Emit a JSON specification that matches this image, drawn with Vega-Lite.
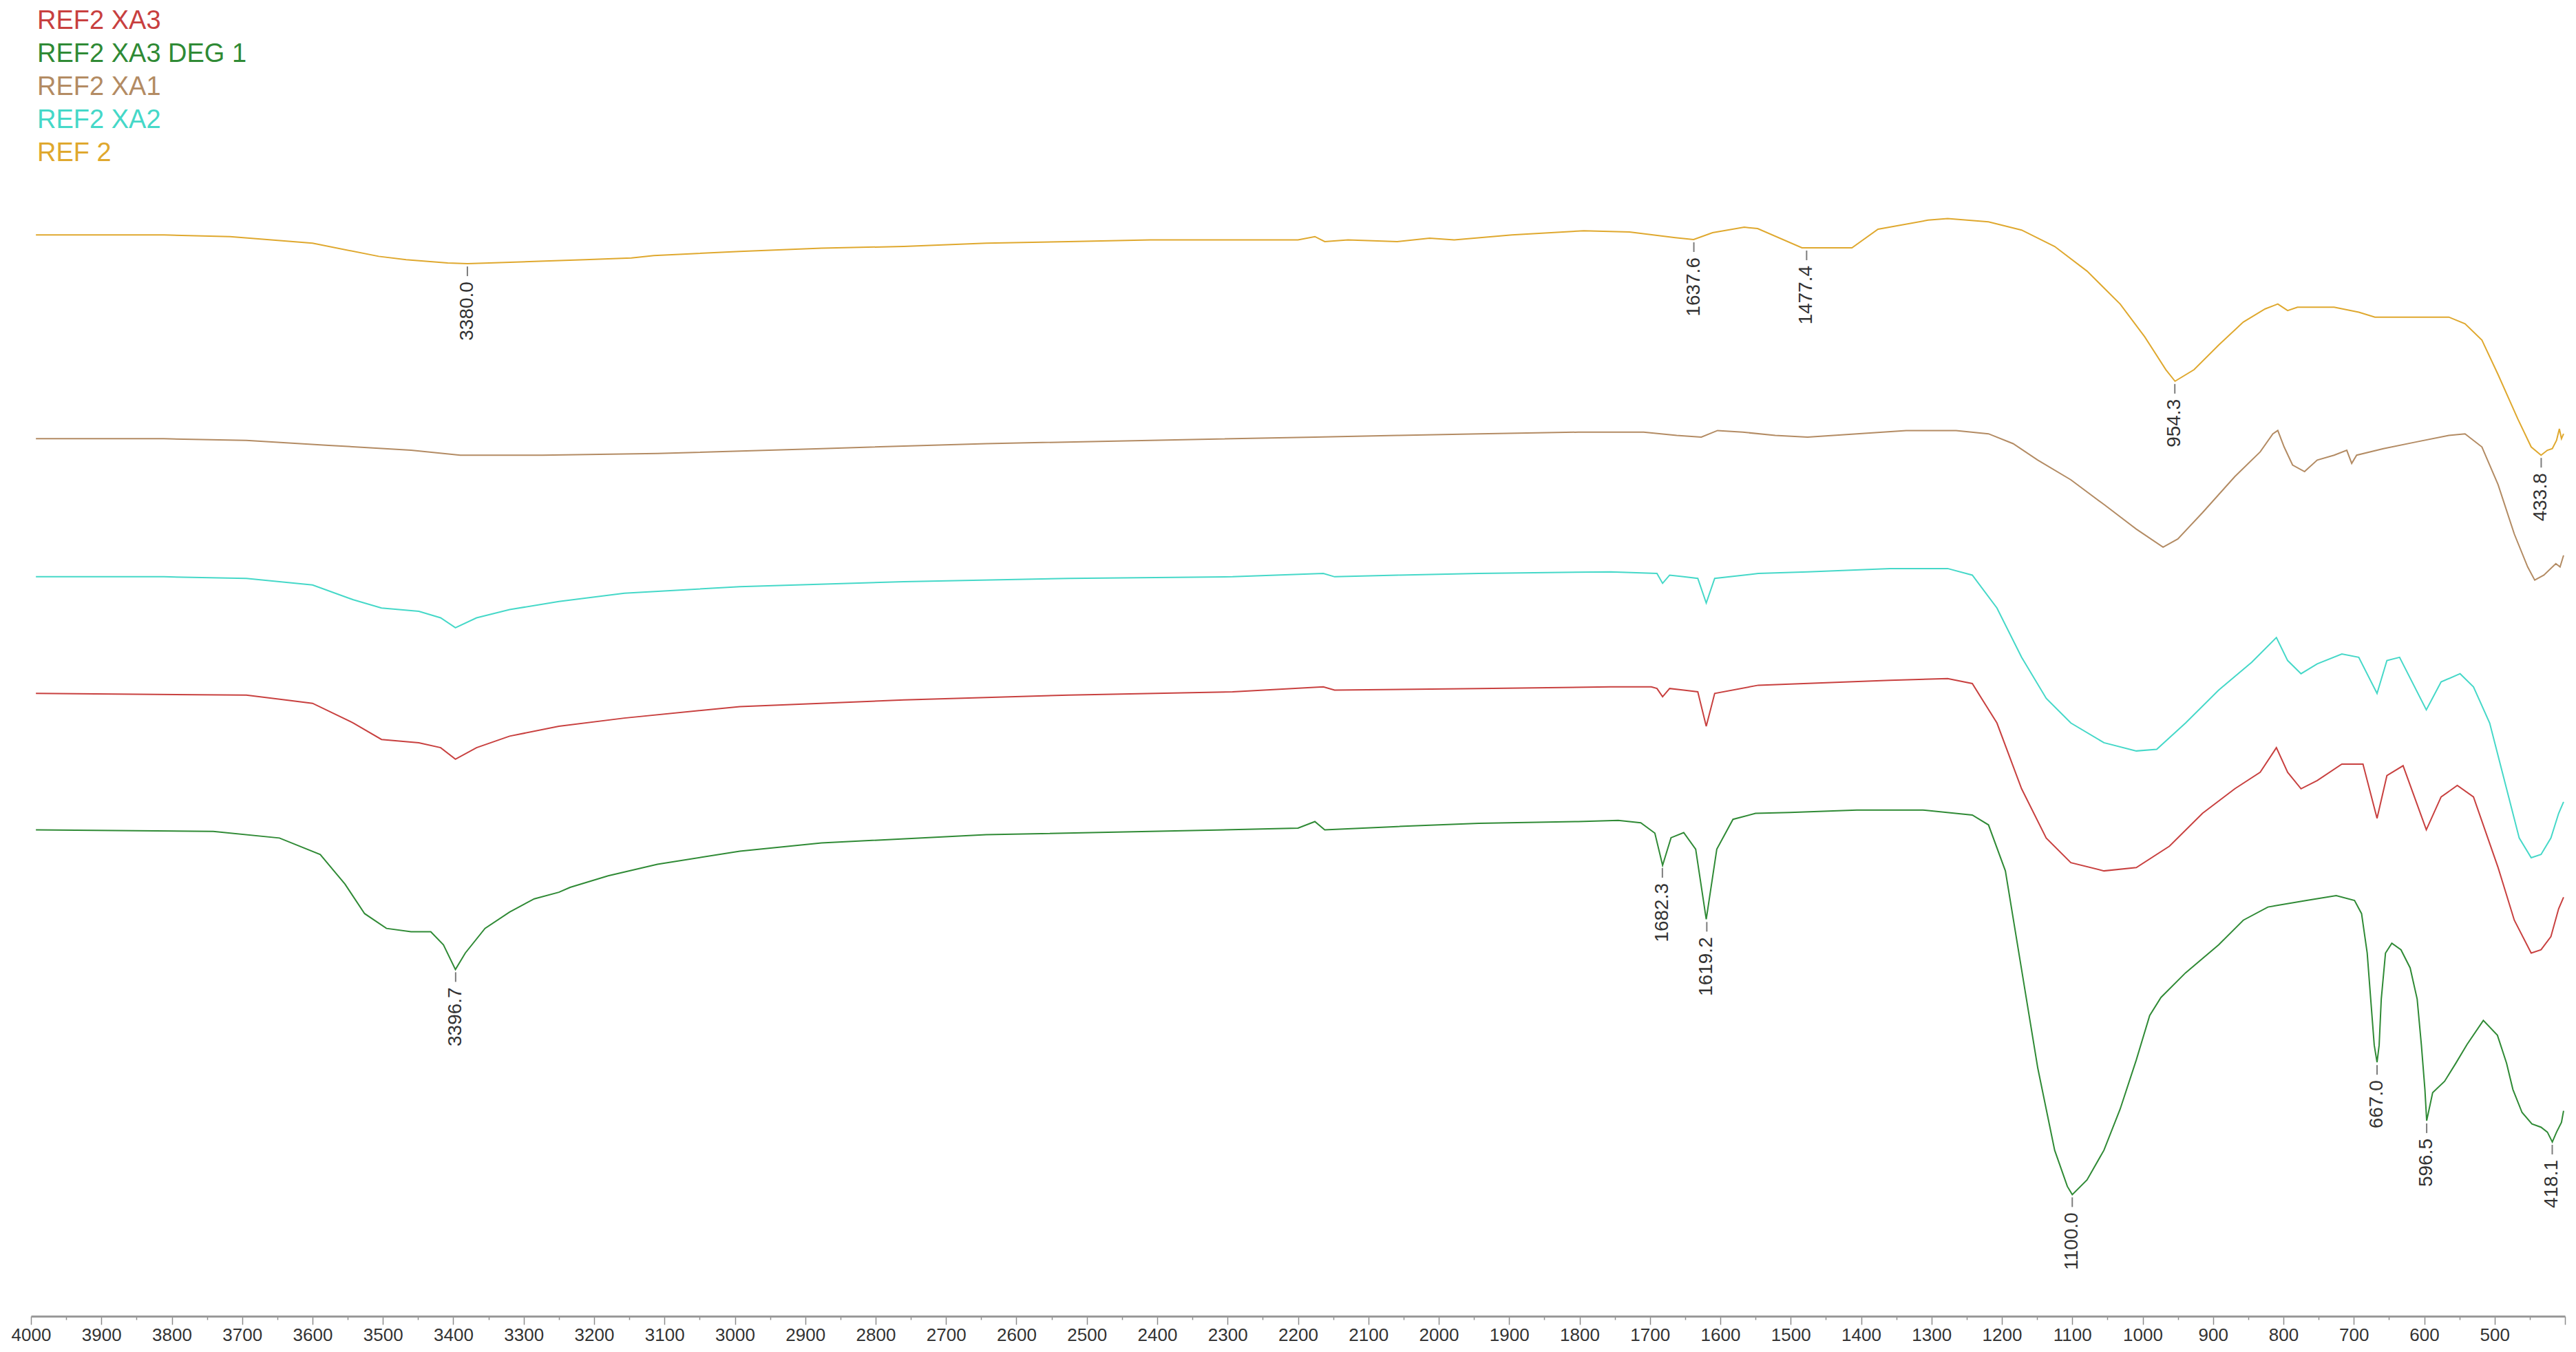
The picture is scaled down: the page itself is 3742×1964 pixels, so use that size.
{
"$schema": "https://vega.github.io/schema/vega-lite/v6.json",
"width": 3681, "height": 1912,
"autosize": {"type": "none"},
"padding": {"left": 45, "top": 0, "right": 16, "bottom": 52},
"background": "white",
"config": {"view": {"stroke": null}, "font": "Liberation Sans"},
"datasets": {
"traces": [
{"s":"REF 2","wn":3993,"v":658},{"s":"REF 2","wn":3811,"v":658},{"s":"REF 2","wn":3717,"v":657},{"s":"REF 2","wn":3600,"v":653},{"s":"REF 2","wn":3506,"v":645},{"s":"REF 2","wn":3467,"v":643},{"s":"REF 2","wn":3408,"v":641},{"s":"REF 2","wn":3380,"v":640.5},{"s":"REF 2","wn":3349,"v":641},{"s":"REF 2","wn":3278,"v":642},{"s":"REF 2","wn":3213,"v":643},{"s":"REF 2","wn":3147,"v":644},{"s":"REF 2","wn":3115,"v":645.5},{"s":"REF 2","wn":2993,"v":648},{"s":"REF 2","wn":2877,"v":650},{"s":"REF 2","wn":2760,"v":651},{"s":"REF 2","wn":2643,"v":653},{"s":"REF 2","wn":2526,"v":654},{"s":"REF 2","wn":2410,"v":655},{"s":"REF 2","wn":2270,"v":655},{"s":"REF 2","wn":2200,"v":655},{"s":"REF 2","wn":2176,"v":657},{"s":"REF 2","wn":2162,"v":654},{"s":"REF 2","wn":2129,"v":655},{"s":"REF 2","wn":2059,"v":654},{"s":"REF 2","wn":2013,"v":656},{"s":"REF 2","wn":1978,"v":655},{"s":"REF 2","wn":1896,"v":658},{"s":"REF 2","wn":1794,"v":660.6},{"s":"REF 2","wn":1729,"v":659.8},{"s":"REF 2","wn":1664,"v":656.4},{"s":"REF 2","wn":1638,"v":655.2},{"s":"REF 2","wn":1611,"v":659.4},{"s":"REF 2","wn":1566,"v":662.7},{"s":"REF 2","wn":1547,"v":661.9},{"s":"REF 2","wn":1484,"v":650.2},{"s":"REF 2","wn":1413,"v":650.2},{"s":"REF 2","wn":1376,"v":661.5},{"s":"REF 2","wn":1305,"v":667},{"s":"REF 2","wn":1277,"v":668},{"s":"REF 2","wn":1219,"v":666},{"s":"REF 2","wn":1172,"v":661},{"s":"REF 2","wn":1125,"v":651},{"s":"REF 2","wn":1079,"v":636},{"s":"REF 2","wn":1032,"v":616},{"s":"REF 2","wn":997,"v":596},{"s":"REF 2","wn":967,"v":576},{"s":"REF 2","wn":954,"v":569},{"s":"REF 2","wn":927,"v":576},{"s":"REF 2","wn":892,"v":591},{"s":"REF 2","wn":857,"v":605},{"s":"REF 2","wn":826,"v":613},{"s":"REF 2","wn":808,"v":616},{"s":"REF 2","wn":794,"v":612},{"s":"REF 2","wn":780,"v":614},{"s":"REF 2","wn":728,"v":614},{"s":"REF 2","wn":693,"v":611},{"s":"REF 2","wn":670,"v":608},{"s":"REF 2","wn":612,"v":608},{"s":"REF 2","wn":565,"v":608},{"s":"REF 2","wn":542,"v":604},{"s":"REF 2","wn":518,"v":594},{"s":"REF 2","wn":495,"v":573},{"s":"REF 2","wn":467,"v":546},{"s":"REF 2","wn":448,"v":529},{"s":"REF 2","wn":434,"v":524},{"s":"REF 2","wn":425,"v":527},{"s":"REF 2","wn":418,"v":528},{"s":"REF 2","wn":412,"v":533},{"s":"REF 2","wn":408,"v":540},{"s":"REF 2","wn":405,"v":534},{"s":"REF 2","wn":402,"v":537},
{"s":"REF2 XA1","wn":3993,"v":534},{"s":"REF2 XA1","wn":3811,"v":534},{"s":"REF2 XA1","wn":3694,"v":533},{"s":"REF2 XA1","wn":3577,"v":530},{"s":"REF2 XA1","wn":3460,"v":527},{"s":"REF2 XA1","wn":3390,"v":524},{"s":"REF2 XA1","wn":3274,"v":524},{"s":"REF2 XA1","wn":3110,"v":525},{"s":"REF2 XA1","wn":2877,"v":528},{"s":"REF2 XA1","wn":2643,"v":531},{"s":"REF2 XA1","wn":2410,"v":533},{"s":"REF2 XA1","wn":2176,"v":535},{"s":"REF2 XA1","wn":2059,"v":536},{"s":"REF2 XA1","wn":1943,"v":537},{"s":"REF2 XA1","wn":1802,"v":538},{"s":"REF2 XA1","wn":1709,"v":538},{"s":"REF2 XA1","wn":1662,"v":536},{"s":"REF2 XA1","wn":1627,"v":535},{"s":"REF2 XA1","wn":1604,"v":539},{"s":"REF2 XA1","wn":1568,"v":538},{"s":"REF2 XA1","wn":1522,"v":536},{"s":"REF2 XA1","wn":1476,"v":535},{"s":"REF2 XA1","wn":1406,"v":537},{"s":"REF2 XA1","wn":1336,"v":539},{"s":"REF2 XA1","wn":1265,"v":539},{"s":"REF2 XA1","wn":1219,"v":537},{"s":"REF2 XA1","wn":1184,"v":531},{"s":"REF2 XA1","wn":1149,"v":521},{"s":"REF2 XA1","wn":1102,"v":509},{"s":"REF2 XA1","wn":1055,"v":494},{"s":"REF2 XA1","wn":1009,"v":479},{"s":"REF2 XA1","wn":971,"v":468},{"s":"REF2 XA1","wn":950,"v":473},{"s":"REF2 XA1","wn":915,"v":489},{"s":"REF2 XA1","wn":869,"v":511},{"s":"REF2 XA1","wn":833,"v":526},{"s":"REF2 XA1","wn":815,"v":537},{"s":"REF2 XA1","wn":808,"v":539},{"s":"REF2 XA1","wn":799,"v":529},{"s":"REF2 XA1","wn":787,"v":518},{"s":"REF2 XA1","wn":770,"v":514},{"s":"REF2 XA1","wn":752,"v":521},{"s":"REF2 XA1","wn":728,"v":524},{"s":"REF2 XA1","wn":710,"v":527},{"s":"REF2 XA1","wn":703,"v":519},{"s":"REF2 XA1","wn":696,"v":524},{"s":"REF2 XA1","wn":658,"v":528},{"s":"REF2 XA1","wn":612,"v":532},{"s":"REF2 XA1","wn":565,"v":536},{"s":"REF2 XA1","wn":542,"v":537},{"s":"REF2 XA1","wn":518,"v":529},{"s":"REF2 XA1","wn":495,"v":506},{"s":"REF2 XA1","wn":472,"v":476},{"s":"REF2 XA1","wn":453,"v":456},{"s":"REF2 XA1","wn":443,"v":448},{"s":"REF2 XA1","wn":430,"v":451},{"s":"REF2 XA1","wn":413,"v":458},{"s":"REF2 XA1","wn":407,"v":456},{"s":"REF2 XA1","wn":402,"v":463},
{"s":"REF2 XA2","wn":3993,"v":450},{"s":"REF2 XA2","wn":3811,"v":450},{"s":"REF2 XA2","wn":3694,"v":449},{"s":"REF2 XA2","wn":3600,"v":445},{"s":"REF2 XA2","wn":3542,"v":436},{"s":"REF2 XA2","wn":3502,"v":431},{"s":"REF2 XA2","wn":3449,"v":429},{"s":"REF2 XA2","wn":3418,"v":425},{"s":"REF2 XA2","wn":3397,"v":419},{"s":"REF2 XA2","wn":3367,"v":425},{"s":"REF2 XA2","wn":3320,"v":430},{"s":"REF2 XA2","wn":3250,"v":435},{"s":"REF2 XA2","wn":3157,"v":440},{"s":"REF2 XA2","wn":2993,"v":444},{"s":"REF2 XA2","wn":2760,"v":447},{"s":"REF2 XA2","wn":2526,"v":449},{"s":"REF2 XA2","wn":2293,"v":450},{"s":"REF2 XA2","wn":2164,"v":452},{"s":"REF2 XA2","wn":2148,"v":450},{"s":"REF2 XA2","wn":2059,"v":451},{"s":"REF2 XA2","wn":1943,"v":452},{"s":"REF2 XA2","wn":1756,"v":453},{"s":"REF2 XA2","wn":1690,"v":452},{"s":"REF2 XA2","wn":1682,"v":446},{"s":"REF2 XA2","wn":1672,"v":451},{"s":"REF2 XA2","wn":1652,"v":450},{"s":"REF2 XA2","wn":1632,"v":449},{"s":"REF2 XA2","wn":1620,"v":434},{"s":"REF2 XA2","wn":1608,"v":449},{"s":"REF2 XA2","wn":1546,"v":452},{"s":"REF2 XA2","wn":1476,"v":453},{"s":"REF2 XA2","wn":1359,"v":455},{"s":"REF2 XA2","wn":1277,"v":455},{"s":"REF2 XA2","wn":1242,"v":451},{"s":"REF2 XA2","wn":1207,"v":431},{"s":"REF2 XA2","wn":1172,"v":401},{"s":"REF2 XA2","wn":1137,"v":376},{"s":"REF2 XA2","wn":1102,"v":361},{"s":"REF2 XA2","wn":1055,"v":349},{"s":"REF2 XA2","wn":1009,"v":344},{"s":"REF2 XA2","wn":980,"v":345},{"s":"REF2 XA2","wn":939,"v":361},{"s":"REF2 XA2","wn":892,"v":381},{"s":"REF2 XA2","wn":845,"v":398},{"s":"REF2 XA2","wn":810,"v":413},{"s":"REF2 XA2","wn":794,"v":399},{"s":"REF2 XA2","wn":775,"v":391},{"s":"REF2 XA2","wn":752,"v":397},{"s":"REF2 XA2","wn":717,"v":403},{"s":"REF2 XA2","wn":693,"v":401},{"s":"REF2 XA2","wn":667,"v":379},{"s":"REF2 XA2","wn":653,"v":399},{"s":"REF2 XA2","wn":635,"v":401},{"s":"REF2 XA2","wn":597,"v":369},{"s":"REF2 XA2","wn":576,"v":386},{"s":"REF2 XA2","wn":549,"v":391},{"s":"REF2 XA2","wn":530,"v":383},{"s":"REF2 XA2","wn":507,"v":361},{"s":"REF2 XA2","wn":483,"v":321},{"s":"REF2 XA2","wn":465,"v":291},{"s":"REF2 XA2","wn":448,"v":279},{"s":"REF2 XA2","wn":434,"v":281},{"s":"REF2 XA2","wn":420,"v":291},{"s":"REF2 XA2","wn":409,"v":306},{"s":"REF2 XA2","wn":402,"v":313},
{"s":"REF2 XA3","wn":3993,"v":379},{"s":"REF2 XA3","wn":3694,"v":378},{"s":"REF2 XA3","wn":3600,"v":373},{"s":"REF2 XA3","wn":3542,"v":361},{"s":"REF2 XA3","wn":3502,"v":351},{"s":"REF2 XA3","wn":3449,"v":349},{"s":"REF2 XA3","wn":3418,"v":346},{"s":"REF2 XA3","wn":3397,"v":339},{"s":"REF2 XA3","wn":3367,"v":346},{"s":"REF2 XA3","wn":3320,"v":353},{"s":"REF2 XA3","wn":3250,"v":359},{"s":"REF2 XA3","wn":3157,"v":364},{"s":"REF2 XA3","wn":2993,"v":371},{"s":"REF2 XA3","wn":2760,"v":375},{"s":"REF2 XA3","wn":2526,"v":378},{"s":"REF2 XA3","wn":2293,"v":380},{"s":"REF2 XA3","wn":2164,"v":383},{"s":"REF2 XA3","wn":2148,"v":381},{"s":"REF2 XA3","wn":1943,"v":382},{"s":"REF2 XA3","wn":1756,"v":383},{"s":"REF2 XA3","wn":1698,"v":383},{"s":"REF2 XA3","wn":1690,"v":382},{"s":"REF2 XA3","wn":1682,"v":377},{"s":"REF2 XA3","wn":1672,"v":382},{"s":"REF2 XA3","wn":1652,"v":381},{"s":"REF2 XA3","wn":1632,"v":380},{"s":"REF2 XA3","wn":1620,"v":359},{"s":"REF2 XA3","wn":1608,"v":379},{"s":"REF2 XA3","wn":1546,"v":384},{"s":"REF2 XA3","wn":1359,"v":387},{"s":"REF2 XA3","wn":1277,"v":388},{"s":"REF2 XA3","wn":1242,"v":385},{"s":"REF2 XA3","wn":1207,"v":361},{"s":"REF2 XA3","wn":1172,"v":321},{"s":"REF2 XA3","wn":1137,"v":291},{"s":"REF2 XA3","wn":1102,"v":276},{"s":"REF2 XA3","wn":1055,"v":271},{"s":"REF2 XA3","wn":1009,"v":273},{"s":"REF2 XA3","wn":962,"v":286},{"s":"REF2 XA3","wn":915,"v":306},{"s":"REF2 XA3","wn":869,"v":321},{"s":"REF2 XA3","wn":833,"v":331},{"s":"REF2 XA3","wn":810,"v":346},{"s":"REF2 XA3","wn":794,"v":331},{"s":"REF2 XA3","wn":775,"v":321},{"s":"REF2 XA3","wn":752,"v":326},{"s":"REF2 XA3","wn":717,"v":336},{"s":"REF2 XA3","wn":687,"v":336},{"s":"REF2 XA3","wn":667,"v":303},{"s":"REF2 XA3","wn":653,"v":329},{"s":"REF2 XA3","wn":630,"v":335},{"s":"REF2 XA3","wn":597,"v":296},{"s":"REF2 XA3","wn":576,"v":316},{"s":"REF2 XA3","wn":553,"v":323},{"s":"REF2 XA3","wn":530,"v":316},{"s":"REF2 XA3","wn":495,"v":273},{"s":"REF2 XA3","wn":472,"v":241},{"s":"REF2 XA3","wn":448,"v":221},{"s":"REF2 XA3","wn":434,"v":223},{"s":"REF2 XA3","wn":420,"v":231},{"s":"REF2 XA3","wn":409,"v":248},{"s":"REF2 XA3","wn":402,"v":255},
{"s":"REF2 XA3 DEG 1","wn":3993,"v":296},{"s":"REF2 XA3 DEG 1","wn":3741,"v":295},{"s":"REF2 XA3 DEG 1","wn":3647,"v":291},{"s":"REF2 XA3 DEG 1","wn":3589,"v":281},{"s":"REF2 XA3 DEG 1","wn":3554,"v":263},{"s":"REF2 XA3 DEG 1","wn":3526,"v":245},{"s":"REF2 XA3 DEG 1","wn":3495,"v":236},{"s":"REF2 XA3 DEG 1","wn":3460,"v":234},{"s":"REF2 XA3 DEG 1","wn":3432,"v":234},{"s":"REF2 XA3 DEG 1","wn":3414,"v":226},{"s":"REF2 XA3 DEG 1","wn":3397,"v":211},{"s":"REF2 XA3 DEG 1","wn":3383,"v":221},{"s":"REF2 XA3 DEG 1","wn":3355,"v":236},{"s":"REF2 XA3 DEG 1","wn":3320,"v":246},{"s":"REF2 XA3 DEG 1","wn":3285,"v":254},{"s":"REF2 XA3 DEG 1","wn":3250,"v":258},{"s":"REF2 XA3 DEG 1","wn":3234,"v":261},{"s":"REF2 XA3 DEG 1","wn":3180,"v":268},{"s":"REF2 XA3 DEG 1","wn":3110,"v":275},{"s":"REF2 XA3 DEG 1","wn":2993,"v":283},{"s":"REF2 XA3 DEG 1","wn":2877,"v":288},{"s":"REF2 XA3 DEG 1","wn":2643,"v":293},{"s":"REF2 XA3 DEG 1","wn":2410,"v":295},{"s":"REF2 XA3 DEG 1","wn":2200,"v":297},{"s":"REF2 XA3 DEG 1","wn":2176,"v":301},{"s":"REF2 XA3 DEG 1","wn":2162,"v":296},{"s":"REF2 XA3 DEG 1","wn":2059,"v":298},{"s":"REF2 XA3 DEG 1","wn":1943,"v":300},{"s":"REF2 XA3 DEG 1","wn":1802,"v":301},{"s":"REF2 XA3 DEG 1","wn":1745,"v":301.7},{"s":"REF2 XA3 DEG 1","wn":1713,"v":300.3},{"s":"REF2 XA3 DEG 1","wn":1693,"v":294},{"s":"REF2 XA3 DEG 1","wn":1682,"v":274.4},{"s":"REF2 XA3 DEG 1","wn":1670,"v":291.2},{"s":"REF2 XA3 DEG 1","wn":1652,"v":294.3},{"s":"REF2 XA3 DEG 1","wn":1635,"v":284.2},{"s":"REF2 XA3 DEG 1","wn":1620,"v":241.6},{"s":"REF2 XA3 DEG 1","wn":1605,"v":284.2},{"s":"REF2 XA3 DEG 1","wn":1582,"v":302.4},{"s":"REF2 XA3 DEG 1","wn":1550,"v":306},{"s":"REF2 XA3 DEG 1","wn":1501,"v":306.6},{"s":"REF2 XA3 DEG 1","wn":1406,"v":308},{"s":"REF2 XA3 DEG 1","wn":1312,"v":308},{"s":"REF2 XA3 DEG 1","wn":1242,"v":305},{"s":"REF2 XA3 DEG 1","wn":1219,"v":299},{"s":"REF2 XA3 DEG 1","wn":1195,"v":271},{"s":"REF2 XA3 DEG 1","wn":1172,"v":211},{"s":"REF2 XA3 DEG 1","wn":1149,"v":151},{"s":"REF2 XA3 DEG 1","wn":1125,"v":101},{"s":"REF2 XA3 DEG 1","wn":1107,"v":79},{"s":"REF2 XA3 DEG 1","wn":1100,"v":74},{"s":"REF2 XA3 DEG 1","wn":1079,"v":83},{"s":"REF2 XA3 DEG 1","wn":1055,"v":101},{"s":"REF2 XA3 DEG 1","wn":1032,"v":126},{"s":"REF2 XA3 DEG 1","wn":1009,"v":156},{"s":"REF2 XA3 DEG 1","wn":990,"v":183},{"s":"REF2 XA3 DEG 1","wn":974,"v":194},{"s":"REF2 XA3 DEG 1","wn":939,"v":209},{"s":"REF2 XA3 DEG 1","wn":892,"v":226},{"s":"REF2 XA3 DEG 1","wn":857,"v":241},{"s":"REF2 XA3 DEG 1","wn":822,"v":249},{"s":"REF2 XA3 DEG 1","wn":767,"v":253},{"s":"REF2 XA3 DEG 1","wn":725,"v":256},{"s":"REF2 XA3 DEG 1","wn":699,"v":253},{"s":"REF2 XA3 DEG 1","wn":689,"v":245},{"s":"REF2 XA3 DEG 1","wn":681,"v":221},{"s":"REF2 XA3 DEG 1","wn":676,"v":193},{"s":"REF2 XA3 DEG 1","wn":671,"v":165},{"s":"REF2 XA3 DEG 1","wn":667,"v":154.5},{"s":"REF2 XA3 DEG 1","wn":664,"v":165},{"s":"REF2 XA3 DEG 1","wn":661,"v":193},{"s":"REF2 XA3 DEG 1","wn":655,"v":221},{"s":"REF2 XA3 DEG 1","wn":646,"v":227},{"s":"REF2 XA3 DEG 1","wn":633,"v":223},{"s":"REF2 XA3 DEG 1","wn":620,"v":212},{"s":"REF2 XA3 DEG 1","wn":610,"v":193},{"s":"REF2 XA3 DEG 1","wn":604,"v":165},{"s":"REF2 XA3 DEG 1","wn":599,"v":138},{"s":"REF2 XA3 DEG 1","wn":596.5,"v":119},{"s":"REF2 XA3 DEG 1","wn":588,"v":136},{"s":"REF2 XA3 DEG 1","wn":571,"v":143},{"s":"REF2 XA3 DEG 1","wn":555,"v":154},{"s":"REF2 XA3 DEG 1","wn":539,"v":165.5},{"s":"REF2 XA3 DEG 1","wn":516,"v":180},{"s":"REF2 XA3 DEG 1","wn":496,"v":171},{"s":"REF2 XA3 DEG 1","wn":483,"v":154},{"s":"REF2 XA3 DEG 1","wn":474,"v":138},{"s":"REF2 XA3 DEG 1","wn":461,"v":124},{"s":"REF2 XA3 DEG 1","wn":447,"v":117},{"s":"REF2 XA3 DEG 1","wn":434,"v":115},{"s":"REF2 XA3 DEG 1","wn":425,"v":112},{"s":"REF2 XA3 DEG 1","wn":418,"v":106},{"s":"REF2 XA3 DEG 1","wn":412,"v":112},{"s":"REF2 XA3 DEG 1","wn":405,"v":118},{"s":"REF2 XA3 DEG 1","wn":402,"v":125}
],
"peaks": [
{"s":"REF 2","wn":3380.0,"v":640.5,"label":"3380.0"},
{"s":"REF 2","wn":1637.6,"v":655.2,"label":"1637.6"},
{"s":"REF 2","wn":1477.4,"v":650.2,"label":"1477.4"},
{"s":"REF 2","wn":954.3,"v":569,"label":"954.3"},
{"s":"REF 2","wn":433.8,"v":524,"label":"433.8"},
{"s":"REF2 XA3 DEG 1","wn":3396.7,"v":211,"label":"3396.7"},
{"s":"REF2 XA3 DEG 1","wn":1682.3,"v":274.4,"label":"1682.3"},
{"s":"REF2 XA3 DEG 1","wn":1619.2,"v":241.6,"label":"1619.2"},
{"s":"REF2 XA3 DEG 1","wn":1100.0,"v":74,"label":"1100.0"},
{"s":"REF2 XA3 DEG 1","wn":667.0,"v":154.5,"label":"667.0"},
{"s":"REF2 XA3 DEG 1","wn":596.5,"v":119,"label":"596.5"},
{"s":"REF2 XA3 DEG 1","wn":418.1,"v":106,"label":"418.1"}
]
},
"layer": [
{"data": {"name": "traces"},
 "mark": {"type": "line", "strokeWidth": 2},
 "encoding": {
  "x": {"field": "wn", "type": "quantitative",
        "scale": {"domain": [400, 4000], "reverse": true, "nice": false, "zero": false},
        "axis": {"title": null, "grid": false, "format": "d",
          "values": [4000,3975,3950,3925,3900,3875,3850,3825,3800,3775,3750,3725,3700,3675,3650,3625,3600,3575,3550,3525,3500,3475,3450,3425,3400,3375,3350,3325,3300,3275,3250,3225,3200,3175,3150,3125,3100,3075,3050,3025,3000,2975,2950,2925,2900,2875,2850,2825,2800,2775,2750,2725,2700,2675,2650,2625,2600,2575,2550,2525,2500,2475,2450,2425,2400,2375,2350,2325,2300,2275,2250,2225,2200,2175,2150,2125,2100,2075,2050,2025,2000,1975,1950,1925,1900,1875,1850,1825,1800,1775,1750,1725,1700,1675,1650,1625,1600,1575,1550,1525,1500,1475,1450,1425,1400,1375,1350,1325,1300,1275,1250,1225,1200,1175,1150,1125,1100,1075,1050,1025,1000,975,950,925,900,875,850,825,800,775,750,725,700,675,650,625,600,575,550,525,500,475,450,425,400],
          "labelExpr": "(datum.value % 100 === 0 && datum.value >= 500) ? datum.label : ''",
          "domainColor": "#9a9a9a", "domainWidth": 3,
          "tickColor": "#8c8c8c", "tickWidth": 1.5,
          "tickSize": {"condition": {"test": "datum.value % 100 === 0", "value": 12}, "value": 5},
          "labelFontSize": 26, "labelColor": "#333333", "labelFont": "Liberation Sans",
          "labelPadding": 2, "labelOverlap": false, "labelFlush": false}},
  "y": {"field": "v", "type": "quantitative", "scale": {"domain": [0, 801], "nice": false, "zero": false}, "axis": null},
  "color": {"field": "s", "type": "nominal",
    "scale": {"domain": ["REF2 XA3", "REF2 XA3 DEG 1", "REF2 XA1", "REF2 XA2", "REF 2"],
              "range": ["#c8403f", "#2f8a35", "#b38b63", "#45d8c8", "#dfa82e"]},
    "legend": {"orient": "none", "legendX": -29, "legendY": 12, "title": null,
      "symbolSize": 0, "symbolOpacity": 0, "symbolStrokeWidth": 0,
      "labelFontSize": 38, "labelFont": "Liberation Sans", "labelOffset": 0, "labelLimit": 0,
      "labelColor": {"expr": "scale('color', datum.value)"}, "rowPadding": 10}}
 }},
{"data": {"name": "peaks"},
 "mark": {"type": "tick", "orient": "vertical", "size": 14, "thickness": 2, "color": "#444444", "yOffset": 11},
 "encoding": {
  "x": {"field": "wn", "type": "quantitative"},
  "y": {"field": "v", "type": "quantitative"}
 }},
{"data": {"name": "peaks"},
 "mark": {"type": "text", "angle": 270, "align": "right", "baseline": "middle", "fontSize": 28, "font": "Liberation Sans", "color": "#333333", "yOffset": 26},
 "encoding": {
  "x": {"field": "wn", "type": "quantitative"},
  "y": {"field": "v", "type": "quantitative"},
  "text": {"field": "label", "type": "nominal"}
 }}
]
}
